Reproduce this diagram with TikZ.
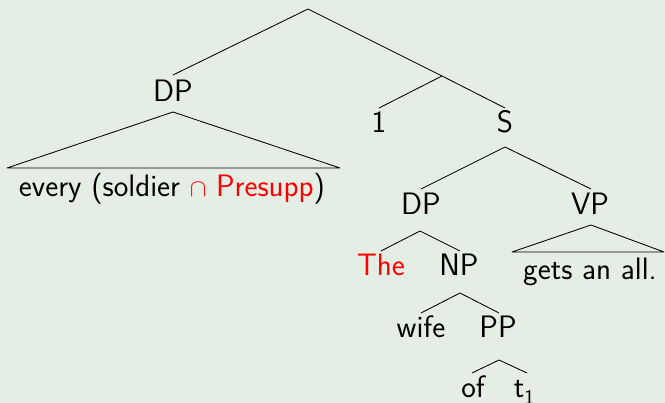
\documentclass[tikz,border=0pt]{standalone}
\usepackage{xcolor}
\definecolor{bgc}{RGB}{229,238,229}
\tikzset{
  lab/.style={anchor=base, inner sep=0pt, font=\sffamily\fontsize{31}{37}\selectfont, text=black},
  redlab/.style={lab, text=red},
  edge/.style={draw=black, line width=0.85pt, line join=round}
}
\begin{document}
\begin{tikzpicture}[x=1pt,y=-1pt]
\fill[bgc] (0,0) rectangle (665,403);
\useasboundingbox (0,0) rectangle (665,403);
% coordinates
\coordinate (root) at (308,9);
\coordinate (DPatop) at (173,75);
\coordinate (DPabot) at (173,112);
\coordinate (triAl) at (7,168);
\coordinate (triAr) at (340,168);
\coordinate (X) at (442,76);
\coordinate (onetop) at (379,108);
\coordinate (Stop) at (505,108);
\coordinate (Sbot) at (505,147);
\coordinate (DPbtop) at (421,189);
\coordinate (DPbbot) at (420,231);
\coordinate (VPtop) at (591,189);
\coordinate (VPbot) at (591,225);
\coordinate (triBl) at (512,252);
\coordinate (triBr) at (664,252);
\coordinate (Thetop) at (381,251);
\coordinate (NPtop) at (460,251);
\coordinate (NPbot) at (460,293);
\coordinate (wifetop) at (421,313);
\coordinate (PPtop) at (499,313);
\coordinate (PPbot) at (499,360);
\coordinate (oftop) at (472,373);
\coordinate (ttop) at (527,373);
% labels
\node[lab] (DPa) at (173,102) {DP};
\node[lab] (every) at (172,197) {every (soldier \textcolor{red}{$\cap$ Presupp})};
\node[lab] (one) at (379,133) {1};
\node[lab] (S) at (505,133) {S};
\node[lab] (DPb) at (421,215) {DP};
\node[lab] (VP) at (590,215) {VP};
\node[lab] (gets) at (590,280) {gets an all.};
\node[redlab] (The) at (381,276) {The};
\node[lab] (NP) at (459,276) {NP};
\node[lab] (wife) at (421,338) {wife};
\node[lab] (PP) at (498,338) {PP};
\node[lab] (of) at (473,398) {of};
\node[lab] (t) at (524,398) {t\raisebox{-0.2em}{\fontsize{21}{21}\selectfont 1}};
% edges
\draw[edge] (DPatop) -- (root) -- (X) -- (Stop);
\draw[edge] (X) -- (onetop);
\draw[edge] (triAl) -- (DPabot) -- (triAr) -- cycle;
\draw[edge] (DPbtop) -- (Sbot) -- (VPtop);
\draw[edge] (triBl) -- (VPbot) -- (triBr) -- cycle;
\draw[edge] (Thetop) -- (DPbbot) -- (NPtop);
\draw[edge] (wifetop) -- (NPbot) -- (PPtop);
\draw[edge] (oftop) -- (PPbot) -- (ttop);
\end{tikzpicture}
\end{document}
